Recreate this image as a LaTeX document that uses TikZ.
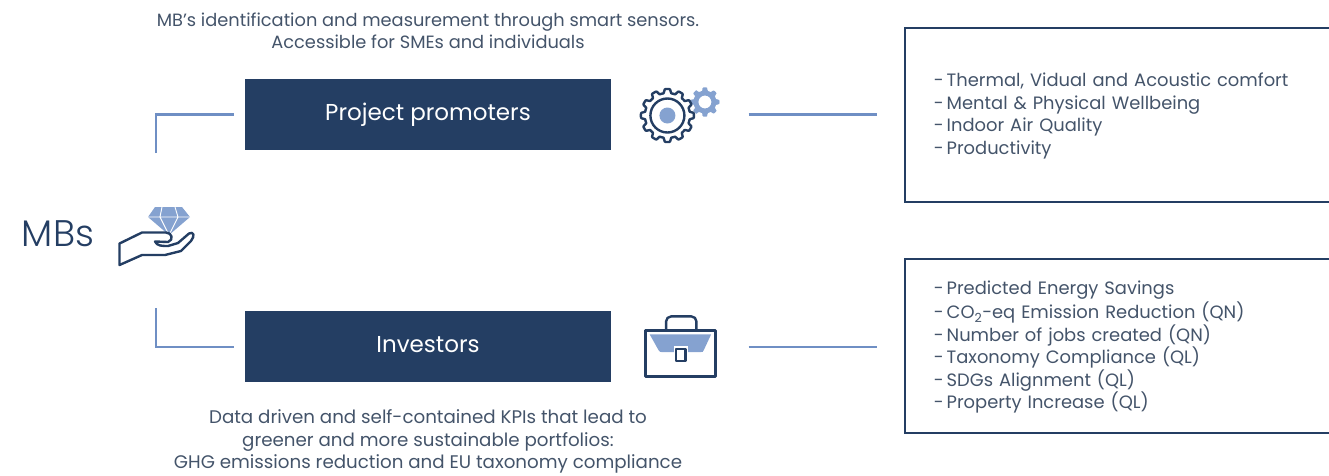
\documentclass[tikz,border=0pt]{standalone}
\usepackage{fontspec}
\setmainfont{Poppins}
\newfontfamily\lightfont{Poppins Light}
\usetikzlibrary{positioning}
\definecolor{navy}{HTML}{243E63}
\definecolor{slate}{HTML}{44546A}
\definecolor{linkblue}{HTML}{6F8FC4}
\definecolor{iconblue}{HTML}{85A2D0}
\newcommand{\kpi}{-\hspace{-3pt} }

\begin{document}
\begin{tikzpicture}[x=1pt, y=-1pt]

% Define styles
\tikzstyle{role} = [rectangle, minimum width=366pt, minimum height=71pt, inner sep=0pt, text height=16pt, text depth=5pt, fill=navy, text=white, font=\fontsize{23}{26}\selectfont]
\tikzstyle{caption} = [align=center, inner sep=0pt, text=slate, font=\fontsize{17.8}{21.5}\selectfont]
\tikzstyle{kpibox} = [rectangle, minimum width=440pt, minimum height=174pt, inner xsep=29pt, inner ysep=0pt, text width=382pt, align=left, draw=navy, line width=2.7pt, fill=white, text=slate, font=\fontsize{17.9}{22.4}\selectfont, execute at begin node={\strut}]
\tikzstyle{iconspot} = [minimum width=74pt, minimum height=60pt, inner sep=0pt]
\tikzstyle{link} = [draw=linkblue, line width=2.2pt]
\tikzstyle{outline} = [draw=navy, line width=2.4pt, line join=round]

\clip (0,0) rectangle (1329,475);

% Left: MBs
\node (mbs) [inner sep=0pt, text=navy, font=\lightfont\fontsize{37}{42}\selectfont] at (58,234) {MBs};
\coordinate (hubtop) at (156,153);
\coordinate (hubbottom) at (156,308);

% Role boxes
\node (promoters) [role] at (428,114.5) {Project promoters};
\node (investors) [role, below=161pt of promoters] {Investors};

% Captions
\node (promotertext) [caption, above=30pt of promoters] {MB’s identification and measurement through smart sensors.\\Accessible for SMEs and individuals};
\node (investortext) [caption, below=27pt of investors, font=\fontsize{18.25}{22.5}\selectfont] {Data driven and self-contained KPIs that lead to\\greener and more sustainable portfolios:\\GHG emissions reduction and EU taxonomy compliance};

% Icon places
\node (gears) [iconspot, right=29pt of promoters] {};
\node (briefcase) [iconspot, right=29pt of investors] {};

% KPI boxes
\node (comfort) [kpibox, anchor=west] at (903.5,115) {\kpi Thermal, Vidual and Acoustic comfort\\\kpi Mental \& Physical Wellbeing\\\kpi Indoor Air Quality\\\kpi Productivity};
\node (savings) [kpibox, anchor=west] at (903.5,346) {\kpi Predicted Energy Savings\\\kpi CO\textsubscript{2}-eq Emission Reduction (QN)\\\kpi Number of jobs created (QN)\\\kpi Taxonomy Compliance (QL)\\\kpi SDGs Alignment (QL)\\\kpi Property Increase (QL)};

% Connectors
\draw [link, shorten >=11pt] (hubtop) |- (promoters.west);
\draw [link, shorten >=11pt] (hubbottom) |- (investors.west);
\draw [link, shorten <=34pt, shorten >=26.5pt] (gears.east) -- (gears.east -| comfort.west);
\draw [link, shorten <=34pt, shorten >=26.5pt] (briefcase.east) -- (briefcase.east -| savings.west);

% Hand with diamond
\fill [iconblue] (155,207) -- (182,207) -- (190,217) -- (169,235) -- (148,217) -- cycle;
\draw [white, line width=0.9pt] (148,217) -- (190,217) (162,207) -- (160,217) -- (169,235) -- (178,217) -- (175,207);
\draw [outline, fill=white] (119.5,265) -- (119.5,243.5) -- (142,232.5) -- (166,232.5) .. controls (172,232.5) and (174,240) .. (168,242) -- (155,241.5) .. controls (157,246) and (162,246) .. (168,246) -- (178,243) -- (189,233.5) .. controls (194,231) and (195,236) .. (191,241) -- (181,251) -- (165,255) -- (142,255) -- cycle;

% Gears
\begin{scope}[shift={(gears.center)}]
\fill [iconblue, even odd rule] plot [smooth cycle, samples=97, domain=0:356.25, variable=\a] ({27.5+(13+max(-1.6,min(1.6,5*cos(8*\a))))*cos(\a)}, {-12.5+(13+max(-1.6,min(1.6,5*cos(8*\a))))*sin(\a)}) (27.5,-12.5) circle (6.5);
\draw [outline, fill=white] plot [samples=180, domain=0:358, variable=\a] ({-10+(24.5+max(-2,min(2,5*cos(12*\a))))*cos(\a)}, {1+(24.5+max(-2,min(2,5*cos(12*\a))))*sin(\a)}) -- cycle;
\draw [outline] (-10,1) circle (17);
\fill [iconblue] (-10,1) circle (8);
\end{scope}

% Briefcase
\begin{scope}[shift={(briefcase.center)}]
\draw [outline, rounded corners=5pt] (-11.3,-16.5) -- (-11.3,-30.5) -- (19,-30.5) -- (19,-16.5);
\fill [iconblue] (-27.7,-12.5) -- (33.7,-12.5) -- (26.5,3) .. controls (25.5,5.2) .. (23,5.2) -- (-15,5.2) .. controls (-17.5,5.2) .. (-19,3) -- cycle;
\draw [outline] (-32,-16.5) rectangle (38,29.5);
\draw [outline, fill=white, preaction={draw=white, line width=5pt}] (-1.3,1.8) rectangle (8,14.2);
\end{scope}
\end{tikzpicture}
\end{document}
